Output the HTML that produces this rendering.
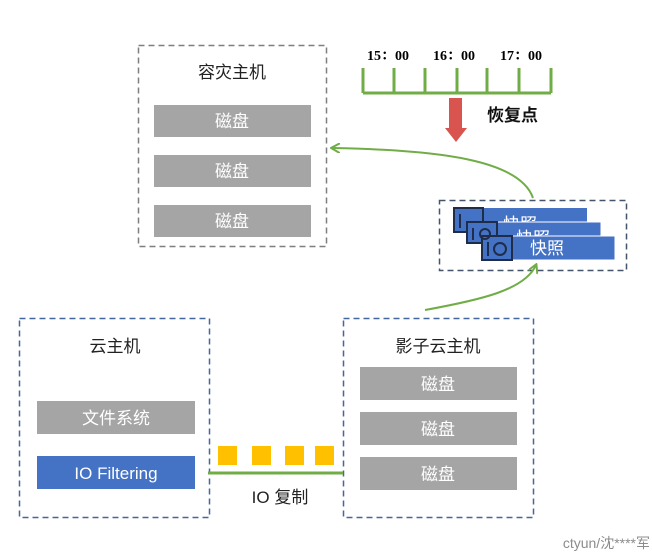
<!DOCTYPE html>
<html><head><meta charset="utf-8"><style>
body{margin:0;background:#fff;}
svg text{font-family:"Liberation Sans","Noto Sans CJK SC",sans-serif;}
</style></head><body>
<svg width="652" height="551" xmlns="http://www.w3.org/2000/svg">
<defs>
<marker id="ah" markerWidth="10" markerHeight="10" refX="8" refY="5" orient="auto" markerUnits="userSpaceOnUse">
<path d="M0,0 L9,5 L0,10" fill="none" stroke="#70ad47" stroke-width="2"/></marker>
</defs>
<!-- 容灾主机 -->
<rect x="138.5" y="45.5" width="188" height="201" fill="none" stroke="#7f7f7f" stroke-width="1.5" stroke-dasharray="6,4"/>
<text x="232" y="78" font-size="17" text-anchor="middle" fill="#222">容灾主机</text>
<rect x="154" y="105" width="157" height="32" fill="#a5a5a5"/>
<rect x="154" y="155" width="157" height="32" fill="#a5a5a5"/>
<rect x="154" y="205" width="157" height="32" fill="#a5a5a5"/>
<g font-size="17" fill="#fff" text-anchor="middle">
<text x="232" y="127">磁盘</text><text x="232" y="177">磁盘</text><text x="232" y="227">磁盘</text></g>
<!-- timeline -->
<g stroke="#70ad47" stroke-width="3" fill="none">
<path d="M363,93 H551"/>
<path d="M363,68V93M394,68V93M425,68V93M457,68V93M487,68V93M519,68V93M551,68V93"/>
</g>
<g font-weight="bold" font-size="14" fill="#000" text-anchor="middle">
<text x="388" y="60" style="font-family:'Liberation Serif','Noto Serif CJK SC',serif">15：00</text>
<text x="454" y="60" style="font-family:'Liberation Serif','Noto Serif CJK SC',serif">16：00</text>
<text x="521" y="60" style="font-family:'Liberation Serif','Noto Serif CJK SC',serif">17：00</text>
</g>
<path d="M449,98 H462 V128 H467 L456,142 L445,128 H449 Z" fill="#d9534f"/>
<text x="487" y="121" font-size="17" font-weight="bold" fill="#111">恢复点</text>
<!-- snapshot box -->
<rect x="439.5" y="200.5" width="187" height="70" fill="none" stroke="#44546a" stroke-width="1.5" stroke-dasharray="6,4"/>
<g>
<rect x="483" y="208" width="104" height="14" fill="#4472c4"/>
<text x="503" y="230" font-size="17" fill="#fff">快照</text>
<rect x="454" y="208" width="29" height="24" fill="#4472c4" stroke="#1f2d4a" stroke-width="2"/>
<rect x="497" y="222" width="104" height="14" fill="#4472c4" stroke="#fff" stroke-width="1"/>
<text x="516" y="244" font-size="17" fill="#fff">快照</text>
<rect x="467" y="222" width="30" height="21" fill="#4472c4" stroke="#1f2d4a" stroke-width="2"/>
<rect x="512" y="236" width="103" height="24" fill="#4472c4" stroke="#fff" stroke-width="1"/>
<text x="530" y="254" font-size="17" fill="#fff">快照</text>
<rect x="482" y="236" width="30" height="24" fill="#4472c4" stroke="#1f2d4a" stroke-width="2"/>
<g fill="none" stroke="#1f2d4a" stroke-width="2">
<path d="M488,242V256"/><circle cx="500" cy="249" r="6"/>
<path d="M473,228V240"/><circle cx="485" cy="234" r="5"/>
<path d="M460,214V228"/>
</g>
</g>
<!-- curves -->
<path d="M533,198 C520,160 440,150 332,148" fill="none" stroke="#70ad47" stroke-width="2" marker-end="url(#ah)"/>
<path d="M425,310 C480,300 525,290 536,265" fill="none" stroke="#70ad47" stroke-width="2" marker-end="url(#ah)"/>
<!-- 云主机 -->
<rect x="19.5" y="318.5" width="190" height="199" fill="none" stroke="#44679e" stroke-width="1.5" stroke-dasharray="6,4"/>
<text x="115" y="352" font-size="17" text-anchor="middle" fill="#222">云主机</text>
<rect x="37" y="401" width="158" height="33" fill="#a5a5a5"/>
<text x="116" y="424" font-size="17" text-anchor="middle" fill="#fff">文件系统</text>
<rect x="37" y="456" width="158" height="33" fill="#4472c4"/>
<text x="116" y="479" font-size="17" text-anchor="middle" fill="#fff">IO Filtering</text>
<!-- 影子云主机 -->
<rect x="343.5" y="318.5" width="190" height="199" fill="none" stroke="#44679e" stroke-width="1.5" stroke-dasharray="6,4"/>
<text x="438" y="352" font-size="17" text-anchor="middle" fill="#222">影子云主机</text>
<rect x="360" y="367" width="157" height="33" fill="#a5a5a5"/>
<rect x="360" y="412" width="157" height="33" fill="#a5a5a5"/>
<rect x="360" y="457" width="157" height="33" fill="#a5a5a5"/>
<g font-size="17" fill="#fff" text-anchor="middle">
<text x="438" y="390">磁盘</text><text x="438" y="435">磁盘</text><text x="438" y="480">磁盘</text></g>
<!-- IO replication -->
<g fill="#ffc000">
<rect x="218" y="446" width="19" height="19"/><rect x="252" y="446" width="19" height="19"/>
<rect x="285" y="446" width="19" height="19"/><rect x="315" y="446" width="19" height="19"/>
</g>
<path d="M208,473 H343" stroke="#70ad47" stroke-width="3"/>
<text x="280" y="503" font-size="17" text-anchor="middle" fill="#222">IO 复制</text>
<text x="650" y="548" font-size="14" text-anchor="end" fill="#8c8c8c">ctyun/沈****军</text>
</svg>
</body></html>
